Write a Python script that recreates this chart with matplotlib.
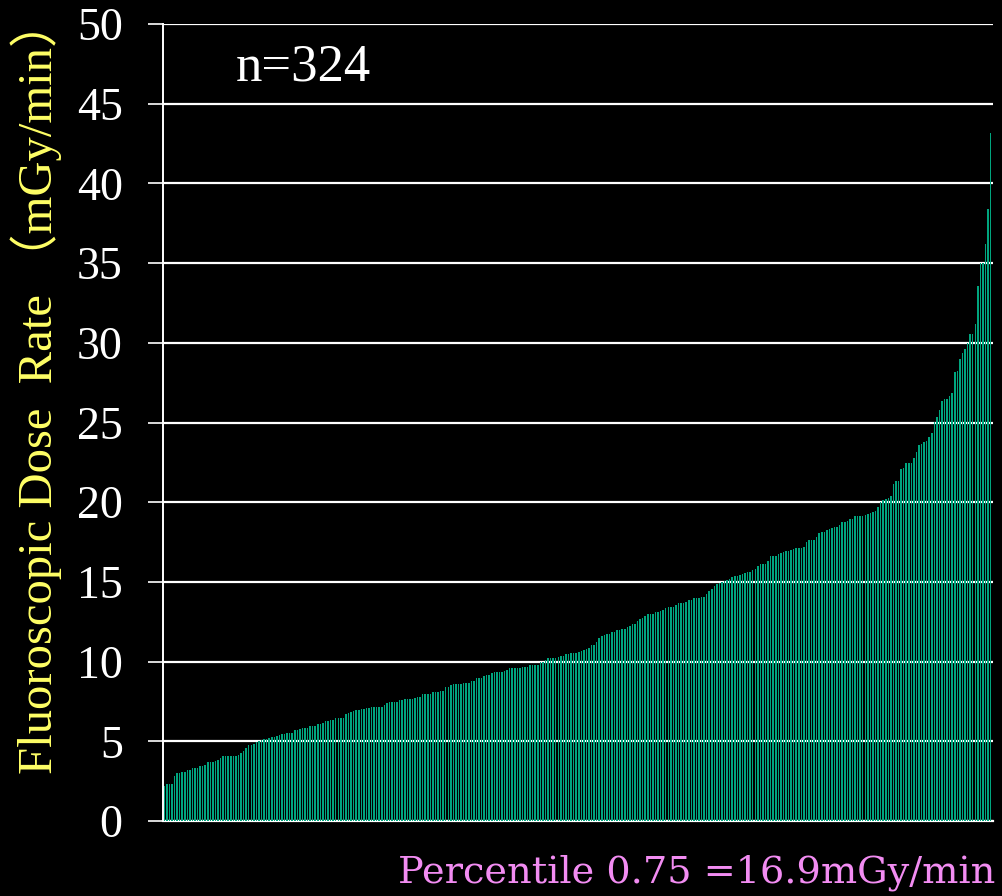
import matplotlib
matplotlib.use("Agg")
import matplotlib.pyplot as plt
import numpy as np

# dose rates (mGy/min), sorted ascending
rates_a = [2.2, 2.35, 2.35, 2.35, 2.85, 3.0, 3.0, 3.1, 3.1, 3.2, 3.2, 3.3, 3.3, 3.3,
           3.45, 3.45, 3.5, 3.68, 3.68, 3.68, 3.75, 3.85, 3.95, 4.05, 4.05, 4.05, 4.05,
           4.1, 4.1, 4.15, 4.25, 4.38, 4.6, 4.75, 4.75, 4.85, 4.95, 5.04, 5.08, 5.12,
           5.16, 5.2, 5.25, 5.3, 5.35, 5.4, 5.45, 5.45, 5.55, 5.55, 5.55, 5.7, 5.7, 5.75]
rates_b = [5.85, 5.85, 5.85, 5.96, 5.96, 5.96, 6.06, 6.06, 6.17, 6.27, 6.27, 6.36, 6.36,
           6.46, 6.46, 6.46, 6.46, 6.71, 6.75, 6.84, 6.9, 6.94, 6.98, 7.04, 7.04, 7.11,
           7.11, 7.15, 7.15, 7.15, 7.15, 7.15, 7.28, 7.38, 7.46, 7.46, 7.46, 7.46, 7.57,
           7.6, 7.66, 7.66, 7.66, 7.66, 7.74, 7.78, 7.78, 7.97, 7.97, 7.97, 7.97, 8.07,
           8.11, 8.11]
rates_c = [8.16, 8.16, 8.39, 8.39, 8.51, 8.58, 8.58, 8.58, 8.58, 8.66, 8.66, 8.66, 8.78,
           8.78, 8.97, 8.97, 8.97, 9.08, 9.16, 9.16, 9.26, 9.37, 9.37, 9.37, 9.37, 9.42,
           9.47, 9.58, 9.58, 9.58, 9.58, 9.58, 9.68, 9.68, 9.68, 9.79, 9.79, 9.79, 9.79,
           9.99, 9.99, 10.1, 10.23, 10.23, 10.23, 10.23, 10.29, 10.35, 10.35, 10.48,
           10.48, 10.56, 10.56, 10.56]
rates_d = [10.6, 10.65, 10.7, 10.77, 10.85, 11.04, 11.04, 11.25, 11.46, 11.59, 11.65,
           11.73, 11.73, 11.86, 11.86, 11.96, 11.96, 12.04, 12.04, 12.17, 12.25, 12.34,
           12.34, 12.57, 12.67, 12.76, 12.86, 12.96, 12.96, 12.96, 13.09, 13.09, 13.15,
           13.24, 13.37, 13.45, 13.45, 13.45, 13.55, 13.66, 13.66, 13.66, 13.76, 13.84,
           13.86, 13.97, 13.97, 14.01, 14.05, 14.05, 14.24, 14.43, 14.53, 14.76, 14.87]
rates_e = [14.95, 15.0, 15.05, 15.1, 15.18, 15.33, 15.35, 15.35, 15.43, 15.51, 15.53,
           15.62, 15.62, 15.74, 15.8, 15.99, 16.14, 16.14, 16.14, 16.31, 16.62, 16.62,
           16.62, 16.73, 16.79, 16.85, 16.94, 16.94, 17.02, 17.08, 17.15, 17.15, 17.15,
           17.21, 17.48, 17.65, 17.65, 17.65, 17.84, 18.05, 18.13, 18.13, 18.26, 18.34,
           18.36, 18.47, 18.47, 18.55, 18.73, 18.73, 18.84, 18.94, 18.94, 19.15, 19.15]
rates_f = [19.13, 19.13, 19.2, 19.26, 19.34, 19.4, 19.46, 19.71, 20.03, 20.13, 20.17,
           20.27, 20.38, 21.13, 21.34, 21.34, 22.06, 22.14, 22.43, 22.43, 22.43, 22.79,
           23.15, 23.56, 23.67, 23.77, 23.86, 24.07, 24.36, 25.03, 25.36, 25.78, 26.37,
           26.45, 26.45, 26.66, 26.83, 28.15, 28.23, 28.96, 29.34, 29.63, 30.0, 30.57,
           30.57, 31.17, 33.56, 35.03, 35.03, 36.18, 38.37, 43.18]

rates = rates_a + rates_b + rates_c + rates_d + rates_e + rates_f
yticks = [0, 5, 10, 15, 20, 25, 30, 35, 40, 45, 50]

serif = ["Liberation Serif", "Noto Sans CJK JP", "DejaVu Serif"]

fig = plt.figure(figsize=(10.02, 8.96), dpi=100, facecolor="black")
ax = fig.add_axes([0.1627, 0.0837, 0.828, 0.8895], facecolor="black")

x = np.arange(len(rates))
ax.bar(x, rates, width=0.6, color="#00A57E", edgecolor="none", zorder=3)

ax.set_ylim(0, 50)
ax.set_xlim(-0.5, len(rates) - 0.2)
ax.set_yticks(yticks)
ax.set_xticks([])
ax.grid(axis="y", color="white", lw=1.6, zorder=0)
ax.tick_params(axis="y", colors="white", length=11, width=1.2, pad=18, labelsize=33)
for lab in ax.get_yticklabels():
    lab.set_family(serif)

for s in ["top", "right"]:
    ax.spines[s].set_visible(False)
ax.spines["left"].set_color("white")
ax.spines["bottom"].set_color("white")
ax.spines["left"].set_linewidth(1.4)
ax.spines["bottom"].set_linewidth(1.6)

ax.set_ylabel("Fluoroscopic Dose  Rate （mGy/min）", color="#FFFF66",
              fontsize=35, family=serif)
ax.yaxis.set_label_coords(-0.122, 0.545)

ax.text(0.088, 0.975, "n=324", transform=ax.transAxes, color="white",
        fontsize=38, family=serif, va="top", ha="left")

fig.text(0.993, 0.006, "Percentile 0.75 =16.9mGy/min", color="#F28CF2",
         fontsize=27.5, family=["DejaVu Serif"], ha="right", va="bottom")

fig.savefig("out.png", dpi=100, facecolor="black")
